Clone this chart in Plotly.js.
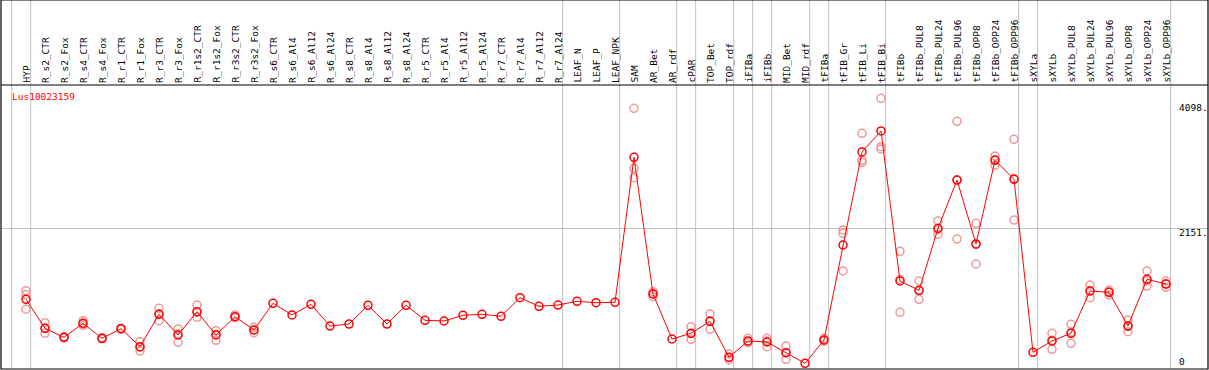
<!DOCTYPE html>
<html>
<head>
<meta charset="utf-8">
<script src="https://cdn.plot.ly/plotly-3.0.1.min.js"></script>
<style>
html,body{margin:0;padding:0;background:#fff;}
#chart{width:1209px;height:370px;}
</style>
</head>
<body>
<div id="chart"></div>
<script>
const categories = ["HYP","R_s2_CTR","R_s2_Fox","R_s4_CTR","R_s4_Fox","R_r1_CTR","R_r1_Fox","R_r3_CTR","R_r3_Fox","R_r1s2_CTR","R_r1s2_Fox","R_r3s2_CTR","R_r3s2_Fox","R_s6_CTR","R_s6_Al4","R_s6_Al12","R_s6_Al24","R_s8_CTR","R_s8_Al4","R_s8_Al12","R_s8_Al24","R_r5_CTR","R_r5_Al4","R_r5_Al12","R_r5_Al24","R_r7_CTR","R_r7_Al4","R_r7_Al12","R_r7_Al24","LEAF_N","LEAF_P","LEAF_NPK","SAM","AR_Bet","AR_rdf","cPAR","TOP_Bet","TOP_rdf","iFIBa","iFIBb","MID_Bet","MID_rdf","tFIBa","tFIB_Gr","tFIB_Li","tFIB_Bi","tFIBb","tFIBb_PUL8","tFIBb_PUL24","tFIBb_PUL96","tFIBb_OPP8","tFIBb_OPP24","tFIBb_OPP96","sXYLa","sXYLb","sXYLb_PUL8","sXYLb_PUL24","sXYLb_PUL96","sXYLb_OPP8","sXYLb_OPP24","sXYLb_OPP96"];

const meanValues = [1045,593,453,671,438,587,307,812,489,852,489,774,567,983,801,967,629,660,952,660,952,718,707,796,812,780,1070,936,956,1014,992,998,3257,1128,427,516,702,142,396,380,213,48,411,1891,3340,3667,1330,1185,2151,2903,1907,3210,2914,220,396,516,1174,1154,629,1357,1283];

const rep1 = [1180,681,460,712,445,595,385,905,583,956,556,801,609,null,null,null,null,null,null,null,null,null,null,null,null,null,null,null,null,null,null,null,4020,1164,null,618,816,193,438,438,318,null,438,2125,3631,4176,1793,1330,2265,3818,2229,3277,3537,null,516,656,1268,1112,723,1486,1330];
const rep2 = [1120,516,445,660,430,580,240,712,375,765,407,760,525,null,null,null,null,null,null,null,null,null,null,null,null,null,null,null,null,null,null,null,3086,1086,null,422,578,100,369,307,111,null,400,2073,3179,3422,843,1045,2058,1984,1595,3132,2280,null,266,360,1070,1160,540,1252,1232];
const rep3 = [890,593,453,640,438,587,300,820,510,840,500,765,567,null,null,null,null,null,null,null,null,null,null,null,null,null,null,null,null,null,null,null,2939,1130,null,510,710,135,385,395,210,null,395,1486,3210,3386,1354,1180,2130,2907,1897,3221,2925,null,406,532,1184,1190,624,1333,1287];

const geneLabel = "Lus10023159";
const yTickVals = [0, 2151, 4098];
const yTickText = ["0", "2151.", "4098."];
const groupBoundaries = [-1, 0, 28, 31, 34, 35, 37, 38, 39, 41, 42, 45, 52, 53, 60];

const FONT = "DejaVu Sans Mono, monospace";
const idx = categories.map((c, i) => i);
const W = 1209, H = 370, ML = 1, MR = 1, MT = 85, MB = 1;
const plotH = H - MT - MB;
const topPaper = 1 + MT / plotH;

const repX = [], repY = [];
[rep1, rep2, rep3].forEach(r => r.forEach((v, i) => { if (v !== null) { repX.push(i); repY.push(v); } }));

const traces = [
  {
    x: repX, y: repY, type: "scatter", mode: "markers", hoverinfo: "skip",
    marker: { symbol: "circle-open", size: 8, color: "#f09898", line: { width: 1.5, color: "#f09898" } }
  },
  {
    x: idx, y: meanValues, type: "scatter", mode: "lines+markers", hoverinfo: "skip",
    line: { color: "#ff0000", width: 1 },
    marker: { symbol: "circle-open", size: 8, color: "#ff0000", line: { width: 1.5, color: "#ff0000" } }
  }
];

const shapes = [];
groupBoundaries.forEach(b => {
  shapes.push({ type: "line", xref: "x", yref: "paper", x0: b + 0.245, x1: b + 0.245, y0: 0, y1: topPaper,
    line: { color: "#c0c0c0", width: 1 }, layer: "below" });
});
shapes.push({ type: "line", xref: "paper", yref: "paper", x0: 0, x1: 1, y0: 1, y1: 1, line: { color: "#000", width: 1.2 } });
shapes.push({ type: "rect", xref: "paper", yref: "paper", x0: 0, x1: 1, y0: 0, y1: topPaper, line: { color: "#000", width: 1.2 } });

const annotations = [];
categories.forEach((c, i) => {
  annotations.push({ x: i, y: 1, xref: "x", yref: "paper", text: c, showarrow: false, textangle: -90,
    xanchor: "center", yanchor: "bottom", yshift: 0, font: { family: FONT, size: 9.5, color: "#000" } });
});
annotations.push({ x: (10 - ML) / (W - ML - MR), y: 1, xref: "paper", yref: "paper", text: geneLabel, showarrow: false,
  xanchor: "left", yanchor: "top", yshift: -4, font: { family: FONT, size: 9.5, color: "#ff0000" } });
yTickVals.forEach((v, k) => {
  annotations.push({ x: (1177 - ML) / (W - ML - MR), y: v, xref: "paper", yref: "y", text: yTickText[k], showarrow: false,
    xanchor: "left", yanchor: v === 0 ? "bottom" : "top", yshift: v === 0 ? -3 : 3,
    font: { family: FONT, size: 9.5, color: "#000" } });
});

const s = 138.1 / 2151;
const layout = {
  width: W, height: H,
  margin: { l: ML, r: MR, t: MT, b: MB, pad: 0 },
  paper_bgcolor: "#fff", plot_bgcolor: "#fff",
  showlegend: false,
  xaxis: { range: [(1 - 26) / 19, (1208 - 26) / 19], showgrid: false, zeroline: false, showticklabels: false, ticks: "", showline: false, fixedrange: true },
  yaxis: { range: [-(369 - 366.4) / s, (366.4 - 85) / s], tickvals: [2151], showgrid: true, gridcolor: "#c0c0c0", gridwidth: 1,
    zeroline: false, showticklabels: false, ticks: "", showline: false, fixedrange: true },
  shapes: shapes,
  annotations: annotations
};

Plotly.newPlot("chart", traces, layout, { displayModeBar: false, staticPlot: true });
</script>
</body>
</html>
